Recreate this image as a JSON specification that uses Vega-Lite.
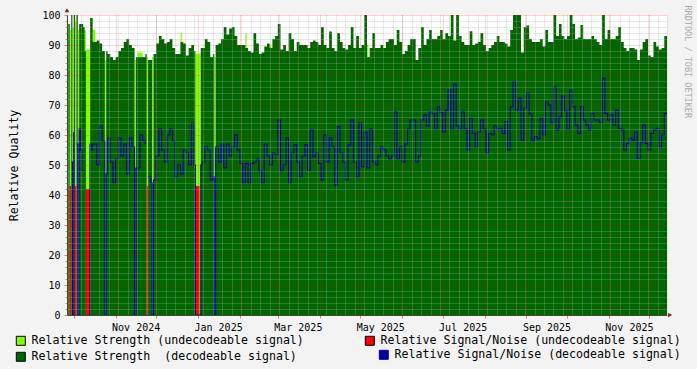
{
"$schema": "https://vega.github.io/schema/vega-lite/v6.json",
"width": 600, "height": 300,
"autosize": {"type": "none"},
"padding": {"left": 67, "top": 15, "right": 30, "bottom": 54},
"background": "#F3F3F3",
"config": {"view": {"fill": "#FFFFFF", "stroke": null}, "font": "DejaVu Sans Mono"},
"datasets": {
"main": [
{"d":"2024-09-26","s":0,"n":null},{"d":"2024-09-27","s":97,"n":51},{"d":"2024-09-28","s":0,"n":null},{"d":"2024-09-29","s":100,"n":51},
{"d":"2024-09-30","s":0,"n":0},{"d":"2024-10-01","s":100,"n":61},{"d":"2024-10-02","s":0,"n":null},{"d":"2024-10-03","s":100,"n":57},
{"d":"2024-10-04","s":0,"n":0},{"d":"2024-10-05","s":97,"n":62},{"d":"2024-10-06","s":97,"n":55},{"d":"2024-10-07","s":97,"n":48},
{"d":"2024-10-08","s":96,"n":48},{"d":"2024-10-09","s":88,"n":48},{"d":"2024-10-10","s":0,"n":null},{"d":"2024-10-12","s":0,"n":0},{"d":"2024-10-13","s":99,"n":57},
{"d":"2024-10-14","s":99,"n":55},{"d":"2024-10-15","s":91,"n":57},{"d":"2024-10-16","s":91,"n":57},{"d":"2024-10-18","s":91.5,"n":50},
{"d":"2024-10-20","s":90.5,"n":63},{"d":"2024-10-22","s":88,"n":58},{"d":"2024-10-24","s":0,"n":0},{"d":"2024-10-25","s":88,"n":47},
{"d":"2024-10-26","s":87,"n":59},{"d":"2024-10-28","s":86,"n":51},{"d":"2024-10-30","s":85,"n":44},{"d":"2024-11-01","s":86,"n":52},
{"d":"2024-11-03","s":88,"n":59},{"d":"2024-11-05","s":89,"n":53},{"d":"2024-11-07","s":91,"n":57},{"d":"2024-11-09","s":92,"n":47},
{"d":"2024-11-11","s":90,"n":59},{"d":"2024-11-13","s":89,"n":56},{"d":"2024-11-15","s":0,"n":0},{"d":"2024-11-16","s":86,"n":49},
{"d":"2024-11-19","s":86,"n":60},{"d":"2024-11-21","s":86,"n":58},{"d":"2024-11-23","s":87,"n":57},{"d":"2024-11-24","s":0,"n":null},
{"d":"2024-11-25","s":85,"n":46},{"d":"2024-11-27","s":85,"n":44},{"d":"2024-11-28","s":0,"n":0},{"d":"2024-11-29","s":87,"n":45},
{"d":"2024-12-01","s":90.5,"n":53},{"d":"2024-12-03","s":93,"n":62},{"d":"2024-12-05","s":92,"n":55},{"d":"2024-12-07","s":90.5,"n":51},
{"d":"2024-12-09","s":91,"n":60},{"d":"2024-12-11","s":92,"n":62},{"d":"2024-12-13","s":89,"n":58},{"d":"2024-12-15","s":87,"n":46},
{"d":"2024-12-17","s":87,"n":50},{"d":"2024-12-19","s":91,"n":47},{"d":"2024-12-21","s":90.5,"n":55},{"d":"2024-12-23","s":86.5,"n":54},
{"d":"2024-12-25","s":89,"n":50},{"d":"2024-12-27","s":90,"n":64},{"d":"2024-12-29","s":88,"n":50},{"d":"2024-12-30","s":0,"n":0},
{"d":"2025-01-03","s":89,"n":50},{"d":"2025-01-04","s":89,"n":51},{"d":"2025-01-06","s":92,"n":56},{"d":"2025-01-08","s":91,"n":55},
{"d":"2025-01-10","s":86,"n":45},{"d":"2025-01-12","s":87,"n":46},{"d":"2025-01-13","s":0,"n":0},{"d":"2025-01-14","s":90,"n":56},
{"d":"2025-01-16","s":90.5,"n":51},{"d":"2025-01-18","s":92,"n":57},{"d":"2025-01-20","s":96,"n":49},{"d":"2025-01-22","s":93.5,"n":57},
{"d":"2025-01-24","s":95.5,"n":53},{"d":"2025-01-26","s":96,"n":56},{"d":"2025-01-28","s":93,"n":60},{"d":"2025-01-30","s":90,"n":55},
{"d":"2025-02-01","s":90,"n":50.5},{"d":"2025-02-03","s":90,"n":44},{"d":"2025-02-05","s":89,"n":50.5},{"d":"2025-02-07","s":88,"n":44},
{"d":"2025-02-09","s":87.5,"n":50.5},{"d":"2025-02-11","s":94,"n":51},{"d":"2025-02-13","s":90.5,"n":52},{"d":"2025-02-15","s":87,"n":48},
{"d":"2025-02-17","s":87.5,"n":44},{"d":"2025-02-19","s":89.5,"n":57},{"d":"2025-02-21","s":90.5,"n":53},{"d":"2025-02-23","s":89,"n":50},
{"d":"2025-02-25","s":92,"n":54},{"d":"2025-02-27","s":93,"n":53.5},{"d":"2025-03-01","s":97,"n":65},{"d":"2025-03-03","s":88.5,"n":48},
{"d":"2025-03-05","s":90,"n":50},{"d":"2025-03-07","s":88,"n":59},{"d":"2025-03-09","s":94,"n":44},{"d":"2025-03-11","s":92,"n":54},
{"d":"2025-03-13","s":88,"n":56.7},{"d":"2025-03-15","s":91,"n":51},{"d":"2025-03-17","s":90,"n":46},{"d":"2025-03-19","s":90,"n":53},
{"d":"2025-03-21","s":90,"n":56.7},{"d":"2025-03-23","s":89,"n":48.3},{"d":"2025-03-25","s":91,"n":61.7},{"d":"2025-03-27","s":91.5,"n":52.8},
{"d":"2025-03-29","s":91,"n":54},{"d":"2025-03-31","s":90,"n":50.5},{"d":"2025-04-02","s":96,"n":45},{"d":"2025-04-04","s":90,"n":60},
{"d":"2025-04-06","s":89,"n":51},{"d":"2025-04-08","s":94.5,"n":59},{"d":"2025-04-10","s":89,"n":56},{"d":"2025-04-12","s":88,"n":43.3},
{"d":"2025-04-14","s":94,"n":62.8},{"d":"2025-04-16","s":91,"n":54},{"d":"2025-04-18","s":89,"n":51},{"d":"2025-04-20","s":88.5,"n":45},
{"d":"2025-04-22","s":90,"n":56.7},{"d":"2025-04-24","s":96,"n":65},{"d":"2025-04-26","s":89,"n":51},{"d":"2025-04-28","s":93,"n":46},
{"d":"2025-04-30","s":89,"n":64},{"d":"2025-05-02","s":90,"n":49.4},{"d":"2025-05-04","s":100,"n":61},{"d":"2025-05-06","s":86,"n":49},
{"d":"2025-05-08","s":89,"n":62},{"d":"2025-05-10","s":94,"n":51},{"d":"2025-05-12","s":89,"n":50},{"d":"2025-05-14","s":89,"n":53},
{"d":"2025-05-16","s":90,"n":56},{"d":"2025-05-18","s":89,"n":55},{"d":"2025-05-20","s":91,"n":53},{"d":"2025-05-22","s":92,"n":52},
{"d":"2025-05-24","s":92,"n":53},{"d":"2025-05-26","s":90,"n":67.8},{"d":"2025-05-28","s":95,"n":52},{"d":"2025-05-30","s":91,"n":56},
{"d":"2025-06-01","s":87,"n":51},{"d":"2025-06-03","s":88,"n":57},{"d":"2025-06-05","s":90,"n":62},{"d":"2025-06-07","s":92,"n":65},
{"d":"2025-06-09","s":92,"n":65},{"d":"2025-06-11","s":85,"n":51},{"d":"2025-06-13","s":89,"n":53},{"d":"2025-06-15","s":96,"n":65},
{"d":"2025-06-17","s":90,"n":66.7},{"d":"2025-06-19","s":92,"n":63},{"d":"2025-06-21","s":95,"n":67.8},{"d":"2025-06-23","s":92,"n":67},
{"d":"2025-06-25","s":92,"n":62},{"d":"2025-06-27","s":93,"n":69.4},{"d":"2025-06-29","s":95,"n":67.5},{"d":"2025-07-01","s":92,"n":61},
{"d":"2025-07-03","s":94,"n":68.3},{"d":"2025-07-05","s":93,"n":75},{"d":"2025-07-07","s":100,"n":62},{"d":"2025-07-09","s":91.5,"n":77},
{"d":"2025-07-11","s":100,"n":63},{"d":"2025-07-13","s":93,"n":62},{"d":"2025-07-15","s":91,"n":67.8},{"d":"2025-07-17","s":90,"n":62},
{"d":"2025-07-19","s":90,"n":55},{"d":"2025-07-21","s":94.6,"n":65.6},{"d":"2025-07-23","s":90,"n":60.5},{"d":"2025-07-25","s":90.5,"n":56},
{"d":"2025-07-27","s":91,"n":61},{"d":"2025-07-29","s":94,"n":65},{"d":"2025-07-31","s":90,"n":62},{"d":"2025-08-02","s":88,"n":54},
{"d":"2025-08-04","s":89,"n":60.5},{"d":"2025-08-06","s":90,"n":60},{"d":"2025-08-08","s":91,"n":63},{"d":"2025-08-10","s":93,"n":62},
{"d":"2025-08-12","s":91,"n":62.2},{"d":"2025-08-14","s":91,"n":60.5},{"d":"2025-08-16","s":90.5,"n":64.5},{"d":"2025-08-18","s":89.5,"n":55},
{"d":"2025-08-20","s":95,"n":69.4},{"d":"2025-08-22","s":100,"n":77.8},{"d":"2025-08-24","s":100,"n":68.3},{"d":"2025-08-26","s":100,"n":72.2},
{"d":"2025-08-28","s":87.5,"n":58.3},{"d":"2025-08-30","s":96,"n":69},{"d":"2025-09-01","s":96.5,"n":74},{"d":"2025-09-03","s":92,"n":67},
{"d":"2025-09-05","s":91,"n":58},{"d":"2025-09-07","s":91,"n":59.5},{"d":"2025-09-09","s":91,"n":58.8},{"d":"2025-09-11","s":92,"n":65.6},
{"d":"2025-09-13","s":89.5,"n":60},{"d":"2025-09-15","s":95,"n":71},{"d":"2025-09-17","s":91,"n":70},{"d":"2025-09-19","s":91,"n":64},
{"d":"2025-09-21","s":100,"n":76},{"d":"2025-09-23","s":93,"n":61.7},{"d":"2025-09-25","s":97,"n":66},{"d":"2025-09-27","s":93,"n":73},
{"d":"2025-09-29","s":92,"n":68},{"d":"2025-10-01","s":93,"n":62},{"d":"2025-10-03","s":100,"n":75},{"d":"2025-10-05","s":97,"n":69.4},
{"d":"2025-10-07","s":92,"n":63.3},{"d":"2025-10-09","s":92.5,"n":60.5},{"d":"2025-10-11","s":96.7,"n":69.4},{"d":"2025-10-13","s":92,"n":65},
{"d":"2025-10-15","s":92,"n":63.3},{"d":"2025-10-17","s":92,"n":61.7},{"d":"2025-10-19","s":93,"n":67.2},{"d":"2025-10-21","s":92,"n":65},
{"d":"2025-10-23","s":91,"n":65},{"d":"2025-10-25","s":90,"n":64},{"d":"2025-10-27","s":100,"n":78.9},{"d":"2025-10-29","s":92,"n":67.2},
{"d":"2025-10-31","s":95,"n":65},{"d":"2025-11-02","s":92,"n":66.7},{"d":"2025-11-04","s":92,"n":63.3},{"d":"2025-11-06","s":93,"n":68.3},
{"d":"2025-11-08","s":96,"n":62.2},{"d":"2025-11-10","s":91,"n":61.7},{"d":"2025-11-12","s":89,"n":55},{"d":"2025-11-14","s":88,"n":57.2},
{"d":"2025-11-16","s":89,"n":59},{"d":"2025-11-18","s":89,"n":58.3},{"d":"2025-11-20","s":88.5,"n":61},{"d":"2025-11-22","s":85,"n":52.2},
{"d":"2025-11-24","s":88.5,"n":57.5},{"d":"2025-11-26","s":91,"n":63.3},{"d":"2025-11-28","s":92,"n":57.2},{"d":"2025-11-30","s":86.5,"n":55},
{"d":"2025-12-02","s":86,"n":60.5},{"d":"2025-12-04","s":91,"n":61.7},{"d":"2025-12-06","s":89.5,"n":62.2},{"d":"2025-12-08","s":88.5,"n":56},
{"d":"2025-12-10","s":89,"n":60},{"d":"2025-12-12","s":93,"n":67.2},{"d":"2025-12-14","s":93,"n":67.2}
],
"ug": [
{"d":"2024-09-26","e":"2024-09-27","v":95},{"d":"2024-09-27","e":"2024-09-28","v":97},{"d":"2024-09-28","e":"2024-09-29","v":95},
{"d":"2024-09-30","e":"2024-10-01","v":96},{"d":"2024-10-02","e":"2024-10-03","v":98},{"d":"2024-10-04","e":"2024-10-05","v":95},
{"d":"2024-10-08","e":"2024-10-10","v":95},{"d":"2024-10-10","e":"2024-10-13","v":88.5},{"d":"2024-10-13","e":"2024-10-14","v":95},
{"d":"2024-10-15","e":"2024-10-17","v":95},{"d":"2024-10-24","e":"2024-10-25","v":85},{"d":"2024-11-15","e":"2024-11-16","v":85},
{"d":"2024-11-17","e":"2024-11-21","v":87.5},{"d":"2024-11-24","e":"2024-11-25","v":86},{"d":"2024-11-28","e":"2024-11-29","v":86},
{"d":"2024-12-19","e":"2024-12-20","v":94},{"d":"2024-12-30","e":"2025-01-03","v":87.2},{"d":"2025-01-13","e":"2025-01-14","v":86},
{"d":"2025-02-05","e":"2025-02-06","v":94},{"d":"2025-02-23","e":"2025-02-24","v":90},{"d":"2025-05-06","e":"2025-05-07","v":90}
],
"ur": [
{"d":"2024-09-26","e":"2024-09-27","v":43},{"d":"2024-09-28","e":"2024-09-29","v":43},{"d":"2024-10-02","e":"2024-10-03","v":43},
{"d":"2024-10-10","e":"2024-10-13","v":42},{"d":"2024-11-24","e":"2024-11-25","v":43},{"d":"2024-12-30","e":"2025-01-02","v":43}
]
},
"layer": [
{
"data": {"name": "ug"},
"mark": {"type": "rect", "opacity": 1},
"encoding": {
"x": {"field": "d", "type": "temporal",
"scale": {"type": "utc", "domain": [{"year":2024,"month":9,"date":26,"utc":true},{"year":2025,"month":12,"date":14,"utc":true}]},
"axis": {"orient": "bottom", "tickCount": {"interval": "week", "step": 1}, "grid": true, "gridColor": "#B0B0B0", "gridOpacity": 0.55, "gridDash": [1,1], "ticks": false, "labels": false, "domain": false, "title": null, "zindex": 1}},
"x2": {"field": "e"},
"y": {"field": "v", "type": "quantitative", "scale": {"domain": [0,100], "nice": false},
"axis": {"orient": "left", "values": [2,4,6,8,12,14,16,18,22,24,26,28,32,34,36,38,42,44,46,48,52,54,56,58,62,64,66,68,72,74,76,78,82,84,86,88,92,94,96,98], "grid": true, "gridColor": "#B0B0B0", "gridOpacity": 0.55, "gridDash": [1,1], "ticks": true, "tickSize": 2, "tickColor": "#A0A0A0", "labels": false, "domain": false, "title": null, "zindex": 1}},
"y2": {"datum": 0},
"color": {"datum": "Relative Strength (undecodeable signal)",
"scale": {"domain": ["Relative Strength (undecodeable signal)", "Relative Strength\u00a0 (decodeable signal)"], "range": ["#80FF00", "#006600"]},
"legend": {"orient": "none", "legendX": -52, "legendY": 320, "direction": "vertical", "rowPadding": 2, "padding": 0, "title": null,
"symbolType": "square", "symbolSize": 81, "symbolStrokeColor": "#000000", "symbolStrokeWidth": 1, "symbolOpacity": 1,
"labelFont": "DejaVu Sans Mono", "labelFontSize": 11.6, "labelColor": "#000000", "labelOffset": 5, "labelLimit": 0,
"encode": {"symbols": {"update": {"stroke": {"value": "#000000"}, "strokeWidth": {"value": 1}}}}}}
}
},
{
"data": {"name": "main"},
"mark": {"type": "area", "interpolate": "step-after", "opacity": 1},
"encoding": {
"x": {"field": "d", "type": "temporal", "scale": {"type": "utc"},
"axis": {"orient": "bottom", "values": [{"year":2024,"month":10,"date":1,"utc":true},{"year":2024,"month":11,"date":1,"utc":true},{"year":2024,"month":12,"date":1,"utc":true},{"year":2025,"month":1,"date":1,"utc":true},{"year":2025,"month":2,"date":1,"utc":true},{"year":2025,"month":3,"date":1,"utc":true},{"year":2025,"month":4,"date":1,"utc":true},{"year":2025,"month":5,"date":1,"utc":true},{"year":2025,"month":6,"date":1,"utc":true},{"year":2025,"month":7,"date":1,"utc":true},{"year":2025,"month":8,"date":1,"utc":true},{"year":2025,"month":9,"date":1,"utc":true},{"year":2025,"month":10,"date":1,"utc":true},{"year":2025,"month":11,"date":1,"utc":true},{"year":2025,"month":12,"date":1,"utc":true}],
"labelExpr": "utcmonth(datum.value) % 2 == 0 ? utcFormat(datum.value, '%b %Y') : ''",
"labelOffset": 20, "labelOverlap": false, "labelFlush": false, "labelBound": false,
"labelFont": "DejaVu Sans Mono", "labelFontSize": 10, "labelColor": "#000000", "labelPadding": 4,
"grid": true, "gridColor": "#FF0000", "gridOpacity": 0.35, "gridDash": [1,1],
"ticks": true, "tickSize": 3, "tickColor": "#D08080",
"domain": true, "domainColor": "#444444", "title": null, "zindex": 1}},
"y": {"field": "s", "type": "quantitative",
"axis": {"orient": "left", "values": [0,10,20,30,40,50,60,70,80,90,100], "grid": true, "gridColor": "#FF0000", "gridOpacity": 0.35, "gridDash": [1,1],
"ticks": true, "tickSize": 3, "tickColor": "#D08080", "domain": true, "domainColor": "#444444",
"labelFont": "DejaVu Sans Mono", "labelFontSize": 10, "labelColor": "#000000", "labelPadding": 4, "labelFlush": false,
"title": "Relative Quality", "titleFont": "DejaVu Sans Mono", "titleFontSize": 11.6, "titleFontWeight": "normal", "titleColor": "#000000", "titlePadding": 22, "zindex": 1}},
"color": {"datum": "Relative Strength\u00a0 (decodeable signal)"}
}
},
{
"data": {"name": "ur"},
"mark": {"type": "rect", "opacity": 1},
"encoding": {
"x": {"field": "d", "type": "temporal", "scale": {"type": "utc"}, "axis": null},
"x2": {"field": "e"},
"y": {"field": "v", "type": "quantitative",
"axis": {"orient": "right", "title": "RRDTOOL / TOBI OETIKER", "labels": false, "ticks": false, "domain": false, "grid": false,
"titleAngle": 90, "titleFont": "DejaVu Sans Mono", "titleFontSize": 8.5, "titleFontWeight": "normal", "titleColor": "#AAAAAA",
"titleX": 20, "titleY": -10, "titleAlign": "left", "titleBaseline": "middle"}},
"y2": {"datum": 0},
"fill": {"datum": "Relative Signal/Noise (undecodeable signal)",
"scale": {"domain": ["Relative Signal/Noise (undecodeable signal)"], "range": ["#FF0000"]},
"legend": {"orient": "none", "legendX": 297, "legendY": 320, "padding": 0, "title": null,
"symbolType": "square", "symbolSize": 81, "symbolStrokeColor": "#000000", "symbolStrokeWidth": 1, "symbolOpacity": 1,
"labelFont": "DejaVu Sans Mono", "labelFontSize": 11.6, "labelColor": "#000000", "labelOffset": 5, "labelLimit": 0,
"encode": {"symbols": {"update": {"stroke": {"value": "#000000"}, "strokeWidth": {"value": 1}}}}}}
}
},
{
"data": {"name": "main"},
"mark": {"type": "line", "interpolate": "step-after", "strokeWidth": 1.1, "opacity": 1, "invalid": "break-paths-show-domains"},
"encoding": {
"x": {"field": "d", "type": "temporal", "scale": {"type": "utc"}, "axis": null},
"y": {"field": "n", "type": "quantitative", "axis": null},
"stroke": {"datum": "Relative Signal/Noise (decodeable signal)",
"scale": {"domain": ["Relative Signal/Noise (decodeable signal)"], "range": ["#0000A0"]},
"legend": {"orient": "none", "legendX": 311, "legendY": 334, "padding": 0, "title": null,
"symbolType": "square", "symbolSize": 81, "symbolFillColor": "#0000A0", "symbolStrokeColor": "#000000", "symbolStrokeWidth": 1, "symbolOpacity": 1,
"labelFont": "DejaVu Sans Mono", "labelFontSize": 11.6, "labelColor": "#000000", "labelOffset": 5, "labelLimit": 0,
"encode": {"symbols": {"update": {"fill": {"value": "#0000A0"}, "stroke": {"value": "#000000"}, "strokeWidth": {"value": 1}}}}}}
}
},
{
"data": {"values": [{}]},
"mark": {"type": "point", "shape": "triangle-up", "filled": true, "size": 22, "color": "#902020", "opacity": 1},
"encoding": {
"x": {"datum": {"year":2024,"month":9,"date":26,"utc":true}, "type": "temporal", "scale": {"type": "utc"}, "axis": null},
"y": {"datum": 101.6, "type": "quantitative", "axis": null}
}
},
{
"data": {"values": [{}]},
"mark": {"type": "point", "shape": "triangle-right", "filled": true, "size": 22, "color": "#902020", "opacity": 1},
"encoding": {
"x": {"datum": {"year":2025,"month":12,"date":16,"hours":8,"utc":true}, "type": "temporal", "scale": {"type": "utc"}, "axis": null},
"y": {"datum": 0, "type": "quantitative", "axis": null}
}
}
],
"resolve": {"axis": {"x": "independent", "y": "independent"}}
}
